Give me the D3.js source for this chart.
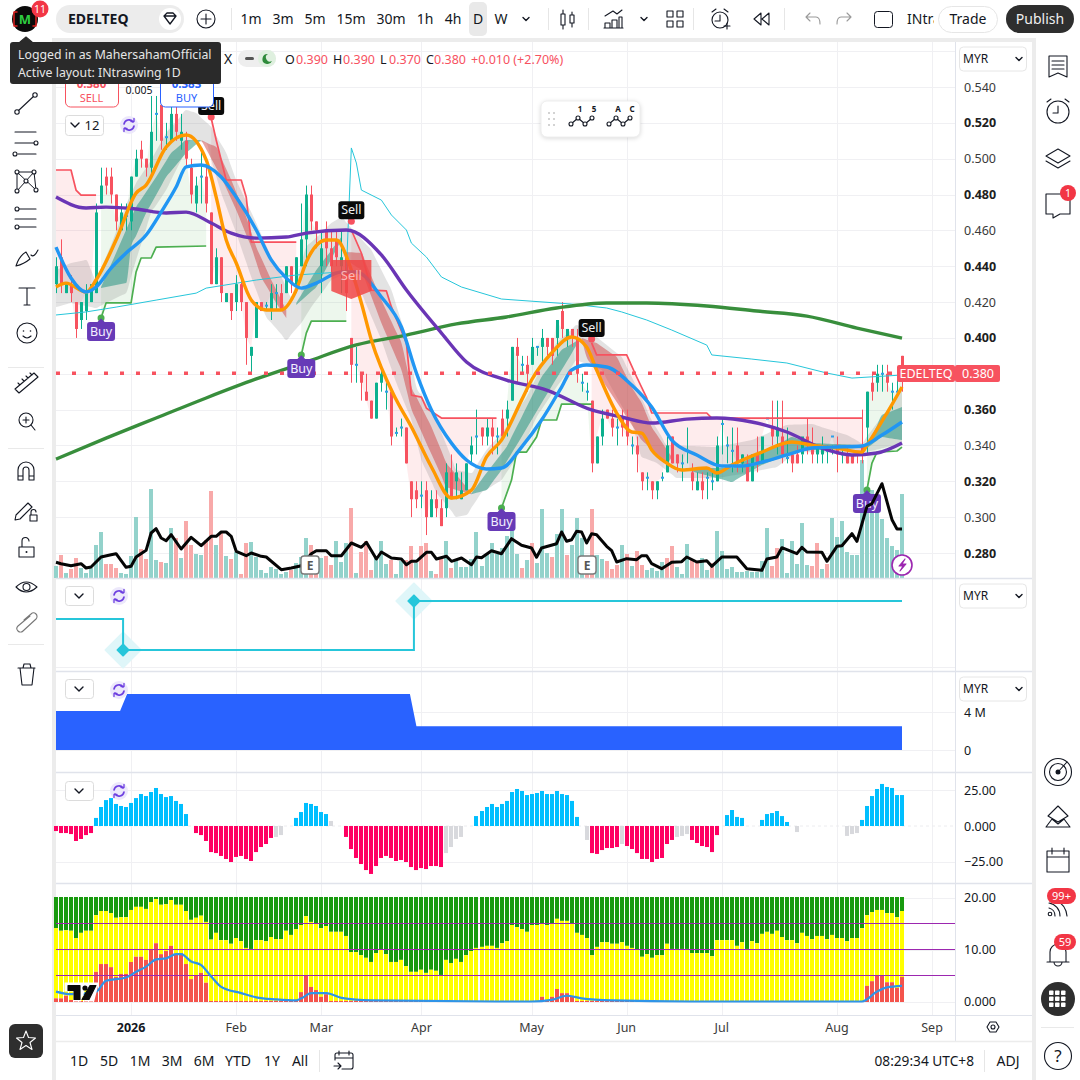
<!DOCTYPE html>
<html><head><meta charset="utf-8">
<style>html,body{margin:0;padding:0;background:#fff;overflow:hidden}svg{display:block}text{font-family:"Noto Sans",sans-serif}</style>
<script src="https://cdn.jsdelivr.net/npm/d3@7"></script></head><body><script>
const opens=[.43,.445,.425,.43,.42,.41,.415,.42,.425,.475,.49,.49,.48,.46,.468,.465,.49,.505,.50,.495,.525,.53,.512,.51,.525,.51,.51,.495,.475,.49,.49,.47,.43,.445,.42,.425,.42,.43,.42,.39,.40,.42,.418,.415,.425,.425,.425,.44,.43,.44,.455,.48,.465,.44,.46,.45,.455,.44,.445,.40,.385,.38,.37,.365,.355,.375,.37,.37,.347,.35,.35,.32,.315,.312,.315,.30,.31,.305,.305,.325,.32,.31,.315,.335,.34,.35,.345,.35,.345,.355,.355,.365,.395,.385,.385,.385,.395,.395,.40,.40,.40,.415,.40,.405,.40,.375,.37,.365,.33,.345,.36,.355,.35,.355,.355,.34,.34,.325,.322,.32,.315,.322,.325,.345,.335,.33,.337,.325,.315,.32,.322,.32,.32,.352,.34,.337,.34,.33,.33,.32,.335,.33,.355,.35,.345,.345,.333,.335,.335,.335,.345,.34,.335,.335,.337,.345,.34,.335,.335,.335,.337,.34,.35,.375,.375,.38,.38,.37,.37,.39];
const highs=[.445,.455,.43,.435,.42,.42,.43,.43,.475,.495,.495,.495,.48,.475,.475,.49,.505,.51,.50,.535,.535,.54,.52,.53,.53,.525,.515,.50,.49,.505,.495,.47,.45,.445,.425,.425,.435,.435,.42,.395,.42,.42,.42,.43,.43,.43,.44,.44,.445,.475,.485,.485,.465,.46,.465,.46,.46,.46,.445,.40,.395,.38,.38,.365,.375,.385,.375,.37,.35,.355,.35,.32,.32,.32,.32,.315,.315,.31,.33,.335,.33,.325,.33,.345,.36,.35,.355,.355,.35,.36,.365,.395,.40,.39,.39,.40,.395,.405,.40,.40,.41,.42,.405,.405,.405,.38,.375,.365,.345,.36,.36,.36,.355,.36,.36,.345,.345,.325,.325,.32,.32,.325,.345,.345,.335,.335,.35,.33,.325,.325,.325,.325,.345,.355,.345,.35,.35,.335,.335,.335,.345,.335,.345,.365,.365,.365,.35,.335,.34,.335,.355,.35,.34,.345,.34,.34,.345,.34,.34,.335,.335,.36,.37,.38,.385,.385,.385,.375,.38,.39];
const lows=[.425,.425,.425,.42,.40,.405,.41,.42,.425,.475,.48,.475,.46,.46,.46,.46,.49,.495,.49,.49,.51,.505,.505,.51,.51,.505,.495,.475,.47,.475,.47,.43,.43,.42,.42,.41,.415,.415,.385,.38,.40,.415,.415,.41,.415,.415,.425,.425,.425,.44,.44,.46,.45,.425,.44,.435,.44,.425,.415,.375,.375,.365,.365,.355,.355,.37,.36,.34,.345,.345,.33,.30,.305,.305,.29,.30,.30,.295,.30,.31,.31,.31,.315,.33,.335,.34,.34,.335,.335,.345,.345,.365,.375,.38,.37,.385,.39,.385,.39,.385,.39,.40,.395,.395,.375,.37,.365,.325,.33,.34,.355,.345,.34,.345,.34,.335,.325,.315,.315,.31,.31,.32,.325,.33,.325,.32,.33,.315,.315,.31,.31,.315,.32,.335,.33,.325,.325,.325,.32,.32,.325,.33,.345,.34,.335,.33,.33,.325,.33,.33,.335,.33,.33,.33,.33,.335,.325,.33,.33,.33,.33,.33,.335,.365,.37,.37,.37,.36,.37,.37];
const closes=[.44,.43,.43,.425,.405,.42,.425,.43,.47,.485,.485,.48,.465,.47,.468,.49,.50,.50,.495,.515,.525,.51,.512,.525,.515,.515,.50,.48,.485,.49,.475,.43,.445,.425,.425,.415,.43,.42,.40,.395,.42,.415,.418,.425,.425,.415,.44,.43,.445,.455,.48,.465,.46,.45,.45,.44,.445,.445,.425,.385,.385,.375,.365,.355,.375,.38,.37,.345,.347,.35,.33,.31,.31,.312,.30,.31,.305,.295,.325,.31,.325,.315,.33,.34,.345,.345,.35,.345,.345,.345,.36,.395,.39,.385,.38,.395,.395,.40,.395,.39,.41,.405,.405,.40,.38,.375,.37,.33,.345,.355,.355,.35,.35,.35,.345,.34,.335,.32,.322,.315,.32,.322,.34,.33,.33,.33,.337,.32,.32,.315,.322,.32,.34,.352,.34,.337,.33,.335,.32,.335,.33,.345,.355,.345,.35,.335,.333,.33,.33,.345,.34,.335,.34,.34,.337,.345,.335,.335,.33,.33,.335,.335,.37,.37,.38,.38,.375,.37,.37,.38];
const dojiIdx=[14,20,22,29,42,44,60,66,68,69,73,84,88,93,96,105,106,112,115,118,121,125,126,130,131,133,134,135,142,146,154,155,157,160,165,167,168];
const volumes=[12,23,5,9,20,10,5,10,33,46,14,14,10,5,4,22,61,29,19,89,18,16,15,50,40,20,57,33,24,23,38,87,33,45,22,19,26,4,35,36,21,8,5,11,9,4,6,8,15,21,40,33,19,20,22,13,37,16,35,70,5,26,37,8,20,37,14,18,4,17,18,32,15,32,35,7,4,19,37,10,19,11,11,19,46,12,24,35,24,30,42,62,24,10,18,35,15,69,25,21,44,69,23,33,60,40,20,69,23,19,17,9,13,33,24,12,27,13,8,10,7,16,20,32,11,4,34,19,15,20,8,15,47,27,9,11,6,6,7,6,6,17,50,12,30,39,5,37,14,55,13,12,35,9,14,60,41,57,26,23,23,118,65,88,73,59,40,32,28,84];
const volColors="grgrrggggg rrrggggrrg grggrgrrgg rrgrgrgrrg ggggggg rgggrrgrrg ggrgrrrggg rggrrgrrgr rgrggggggg ggggggr grgggrggrg ggrrggrrrg rgrrggggrr gggrrggrgg ggggggggg rrggggggrr gr".replace(/ /g,"");
const oscValues=[-3.5,-4.9,-4.9,-5.6,-10.4,-9,-6.3,-4.9,5.6,13.2,18,19.4,15.3,13.9,13.2,16,19.4,22.2,20.8,23.6,26.4,22.2,20.1,20.8,17.4,15.3,8.3,0,-4.9,-6.3,-10.4,-18.1,-18.8,-20.8,-22.9,-25,-21.5,-20.8,-22.9,-24.3,-18.1,-14.6,-12.5,-8.3,-7.6,-6.3,0,0,5.6,9.7,16,15.3,13.9,9.7,8.3,3.5,0,0,-7.6,-16,-22.2,-26.4,-30.6,-33.3,-27.8,-22.2,-20.8,-22.2,-24.3,-23.6,-25,-28.5,-30.6,-29.2,-29.9,-27.8,-27.8,-28.5,-18.8,-14.6,-9,-7.6,0,0,6.9,10.4,13.2,15.3,13.2,15.3,17.4,23.6,25.7,24.3,21.5,22.2,22.9,24.3,22.2,22.2,24.3,22.2,21.5,17.4,6.3,0,-9.7,-18.8,-19.4,-16.7,-15.3,-15.3,-14.6,-12.5,-13.9,-16,-18.8,-22.9,-22.9,-25,-22.9,-22.2,-12.5,-9.7,-7.6,-6.9,-5.6,-9.7,-11.8,-13.9,-14.6,-18.1,-6.3,0,7.6,11.1,6.3,5.6,0,0,0,4.2,8.3,9,10.4,6.9,2.8,0,-4.2,0,0,0,0,0,0,0,0,0,-6.9,-5.6,-4.9,4.2,13.9,20.8,25.7,29.2,27.1,26.4,21.5,21.5];
const oscGray=[44,45,55,78,79,80,81,106,113,124,125,126,148,158,159,160];
const yellowValues=[14.2,13.7,13.8,13.7,12.3,13.3,13.7,13.7,16.7,17.5,17.5,17.1,16.2,16.3,16.3,17.7,18.3,18.3,17.9,19.2,19.8,18.7,18.8,19.6,18.7,18.7,17.5,15.8,16.2,16.6,15.4,12,13.3,11.9,11.9,11.2,12.3,11.7,10.4,10.2,11.9,11.9,11.7,12.5,12.1,12.1,13.7,12.9,14,14.8,16.5,15.4,15,14.2,14.6,13.5,13.5,13.5,12.7,9.6,9.6,9,8.5,7.7,9.4,10,9.2,7.7,7.7,8.1,6.9,5.8,5.8,6.2,5.6,6.2,6,5.2,8.1,7.5,8.3,7.7,9,9.8,10.4,10.6,10.8,10.8,10.4,11.3,11.7,14.8,14.4,14,13.5,14.8,14.8,15,14.8,15,16,15.6,15.6,15,13.3,12.9,12.3,9,10.6,11.5,11.5,11.2,11.2,11.5,10.8,10.4,10,8.7,9.2,8.5,9,9,11.2,10.2,10.2,10.2,10.2,9.4,9.4,9.4,9.4,8.8,11.9,11.9,11.9,11.9,10.8,11.5,10.2,11.7,11.3,13.1,13.5,13.1,13.7,12.5,11.9,11.9,11.3,13.3,12.7,12.1,12.7,12.7,12.1,12.9,12.3,12.3,11.7,12.3,12.3,14.2,16.7,17.3,17.7,17.7,17.1,17.1,16.3,17.5];
const redValues=[.7,.7,1.2,.4,.2,.2,.2,.2,5.8,7.3,7.3,6.7,4.8,5.4,5.4,7.7,8.7,8.7,8.1,10.2,11.3,9.2,9.8,10.8,9.2,9.4,7.3,4.4,5,5.6,3.7,.2,.2,.2,.2,.2,.2,.2,.2,.2,.2,.2,.2,.2,.2,.2,.2,.2,.2,1.9,5,2.9,2.3,1,1.5,.2,.2,.2,.2,.2,.2,.2,.2,.2,.2,.2,.2,.2,.2,.2,.2,.2,.2,.2,.2,.2,.2,.2,.2,.2,.2,.2,.2,.2,.2,.2,.2,.2,.2,.2,.2,.2,.2,.2,.2,.2,.2,1,.4,1,2.5,1.7,1.7,1,.2,.2,.2,.2,.2,.2,.2,.2,.2,.2,.2,.2,.1,.1,.1,.1,.1,.1,.1,.1,.1,.1,.1,.1,.1,.1,.1,.1,.1,.1,.1,.1,.1,.1,.1,.1,.1,.1,.1,.1,.1,.1,.1,.1,.1,.1,.1,.1,.1,.1,.1,.1,.1,.1,.1,.1,.1,.1,3.1,4,5,5,3.8,3.8,2.7,4.8];
const greenTop=20;
const stackBlueLine=[[0,2],[3,1.5],[8,2],[10,4.1],[14,4.7],[16,5.8],[18,6.8],[20,8.2],[22,8.4],[24,9.2],[25,9.2],[27,7.8],[29,7.1],[31,4.9],[33,2.9],[37,1.7],[40,.9],[44,.5],[48,.3],[49,.7],[51,1.7],[54,1.7],[57,.8],[63,.3],[88,.1],[95,.1],[99,.4],[102,1.2],[105,.7],[111,.3],[127,.1],[161,.1],[164,2],[166,2.8],[169,3.1]];
const maLong=[[0,.3324],[10,.3441],[20,.3553],[30,.3665],[40,.3771],[50,.3866],[60,.3961],[70,.4016],[80,.4078],[90,.4117],[100,.4167],[110,.4195],[118,.4195],[130,.4178],[140,.415],[150,.4122],[160,.4055],[169,.3999]];
const maPurple=[[0,.4786],[6,.4725],[10,.473],[16,.4719],[22,.4697],[26,.4702],[31,.4641],[35,.4585],[40,.4557],[46,.4563],[50,.4585],[58,.4602],[65,.4463],[70,.4267],[77,.4027],[82,.3866],[90,.3765],[98,.3709],[107,.3598],[113,.3559],[119,.3525],[126,.3547],[132,.3553],[139,.3531],[146,.3475],[153,.3385],[159,.3347],[164,.3358],[169,.3414]];
const maOrange=[[0,.4284],[2,.4306],[6,.4256],[8,.4323],[12,.4546],[16,.4808],[18,.4853],[22,.5065],[26,.5132],[30,.4993],[32,.4786],[34,.4546],[36,.4418],[39,.4212],[42,.4156],[45,.4156],[48,.4267],[50,.4424],[54,.4546],[56,.4546],[59,.4379],[61,.4195],[63,.3988],[68,.3653],[71,.3503],[75,.328],[79,.3107],[83,.3151],[86,.3336],[89,.343],[93,.3653],[95,.3765],[99,.3916],[103,.4005],[106,.3949],[108,.3821],[112,.3581],[115,.3475],[117,.3469],[119,.3375],[122,.3302],[125,.3263],[130,.3274],[132,.3246],[135,.3291],[141,.3363],[147,.3419],[151,.3402],[156,.3385],[161,.3363],[162,.3402],[166,.3581],[169,.3726]];
const maBlue=[[0,.4507],[3,.4334],[6,.4256],[8,.4284],[11,.439],[14,.4474],[18,.4574],[21,.4702],[24,.4842],[26,.4954],[29,.4965],[33,.4898],[36,.4786],[40,.4602],[43,.4435],[46,.4334],[49,.4278],[52,.4306],[57,.4368],[60,.4368],[65,.4228],[69,.4061],[72,.3804],[75,.3598],[79,.3413],[82,.3319],[86,.3269],[89,.3274],[93,.3391],[97,.3542],[101,.3726],[103,.3821],[106,.3849],[110,.3838],[115,.3737],[119,.3614],[123,.343],[128,.3347],[133,.3285],[137,.3285],[141,.3307],[146,.3347],[151,.3386],[155,.3391],[161,.3397],[165,.3458],[169,.3531]];
const lineCyan=[[0,.4128],[6,.4145],[12,.4172],[20,.4211],[28,.425],[30,.4278],[40,.4323],[48,.4351],[57,.4368],[58,.4368],[59,.506],[60,.4976],[61,.4825],[65,.4769],[67,.4686],[70,.4602],[71,.4529],[74,.4451],[77,.434],[81,.4284],[89,.4217],[103,.4189],[110,.4167],[113,.4145],[118,.41],[123,.4044],[130,.396],[131,.3905],[139,.3882],[146,.386],[154,.3804],[159,.3776],[169,.3793]];
const stopsRed=[[[0,.4937],[3,.4937],[4,.4825],[5,.4797],[8,.4797]],[[31,.5227],[32,.5104],[34,.4881],[37,.4881],[38,.4786],[39,.4535],[48,.4535]],[[59,.4602],[61,.4474],[63,.4267],[66,.4262],[67,.4173],[70,.3972],[71,.3681],[73,.367],[74,.3608],[77,.3553],[88,.3553]],[[107,.3972],[108,.3905],[114,.3905],[116,.3782],[118,.3665],[119,.3581],[130,.3581],[131,.3553],[161,.3553]]];
const stopsGreen=[[[9,.4111],[10,.4195],[15,.4195],[16,.4368],[17,.4446],[19,.4446],[20,.4507],[30,.4513]],[[49,.3905],[50,.4027],[51,.4094],[58,.4094]],[[89,.3051],[91,.3207],[92,.3363],[94,.3363],[96,.3447],[97,.3542],[100,.3542],[101,.3631],[107,.3631]],[[162,.3152],[163,.3302],[164,.3363],[168,.3369],[169,.3391]]];
const bandUpper=[[0,.4379],[3,.4418],[6,.4435],[8,.4323],[11,.4518],[14,.4742],[16,.4864],[19,.4993],[22,.5143],[26,.5272],[28,.5255],[31,.5177],[34,.5032],[36,.4881],[40,.4641],[43,.4451],[47,.4228],[50,.4507],[55,.4641],[57,.4675],[63,.449],[67,.4267],[70,.4005],[72,.3726],[76,.3541],[80,.3263],[83,.3246],[86,.3374],[90,.3503],[94,.367],[97,.3838],[100,.3971],[104,.4072],[108,.4005],[113,.3893],[116,.3726],[119,.3541],[122,.3402],[132,.3391],[139,.343],[146,.3514],[151,.352],[158,.3458],[161,.3413],[169,.3708]];
const bandLower=[[0,.4172],[3,.4195],[8,.4167],[14,.425],[16,.4435],[19,.4697],[22,.4825],[24,.4937],[27,.5104],[30,.5087],[33,.4809],[36,.4585],[39,.434],[42,.4117],[46,.3988],[49,.4083],[51,.4172],[55,.4323],[58,.4362],[61,.425],[65,.3988],[68,.3748],[71,.3541],[73,.3319],[76,.3136],[80,.3001],[82,.3012],[85,.3136],[89,.3207],[93,.3374],[96,.3558],[100,.3726],[104,.3876],[109,.3821],[112,.367],[115,.3525],[117,.3335],[120,.3302],[124,.3218],[132,.3218],[138,.3246],[144,.328],[148,.3363],[159,.3358],[162,.3363],[169,.3413]];
const ribbons=[
{up:1,top:[[9,.4284],[12,.4474],[16,.473],[20,.4898],[23,.5032],[26,.5104],[29,.5104]],bot:[[9,.4279],[14,.4306],[15,.4507],[18,.4697],[22,.4898],[26,.5032],[29,.5104]]},
{up:0,top:[[29,.5104],[32,.5065],[35,.4881],[38,.4675],[40,.4507],[43,.4323],[46,.4156]],bot:[[29,.5104],[33,.4898],[36,.4714],[39,.4507],[41,.434],[44,.4194],[46,.4111]]},
{up:1,top:[[48,.4195],[52,.4379],[57,.4563]],bot:[[48,.4184],[52,.4284],[57,.4546]]},
{up:0,top:[[58,.4479],[61,.4474],[65,.4212],[69,.3972],[71,.3726],[75,.3503],[78,.3302],[83,.3134]],bot:[[58,.4435],[61,.4379],[65,.4083],[69,.3821],[71,.3603],[74,.3413],[78,.3168],[83,.3128]]},
{up:1,top:[[83,.3134],[86,.3246],[90,.3391],[93,.3558],[97,.3782],[101,.3932],[105,.3999]],bot:[[83,.3128],[86,.3151],[89,.3263],[93,.3447],[97,.3637],[101,.3821],[104,.396],[105,.3999]]},
{up:0,top:[[105,.3999],[108,.3971],[112,.3893],[115,.3726],[117,.3637],[119,.3503],[123,.3335]],bot:[[105,.3999],[106,.3893],[110,.3726],[114,.3558],[117,.343],[122,.3302],[123,.3335]]},
{up:1,top:[[126,.3274],[135,.3274],[141,.3363],[147,.3447],[151,.3413],[161,.3402]],bot:[[126,.3263],[135,.3196],[141,.3291],[147,.3358],[151,.3374],[161,.3385]]},
{up:1,top:[[162,.3391],[165,.357],[169,.3614]],bot:[[162,.3385],[165,.3447],[169,.343]]}];
const rsiLine=[[0,15.7],[1,14.3],[3,12.3],[5,14.3],[6,10],[7,11],[9,21],[11,23.3],[12,24.3],[14,10.7],[15,11.7],[16,21],[18,27.7],[19,45],[20,49.3],[21,40],[22,37.3],[23,43.3],[25,29],[27,40.7],[29,32.3],[31,41.7],[32,41.7],[33,46],[34,46],[35,41.7],[36,26.7],[38,22.3],[39,25],[41,21.7],[42,21],[45,8.3],[47,10],[49,12.3],[51,24.3],[52,27.3],[54,27.3],[55,22.3],[57,22.3],[59,35],[61,30.7],[62,35.7],[64,19],[65,26],[67,20],[69,19],[70,13.3],[71,16.7],[72,16.7],[74,25.7],[75,25.7],[76,19],[78,21.7],[79,16.7],[81,20],[83,13.3],[84,21],[85,20.3],[87,27.3],[89,24.3],[91,39.3],[93,32.7],[95,30],[96,20.7],[97,30],[100,34.3],[101,46],[102,36.7],[103,38.3],[104,46.7],[105,46],[106,35],[107,44.3],[108,43.3],[110,31.7],[111,27.3],[112,16],[114,19.3],[116,18.3],[117,22.3],[118,22.3],[119,14.3],[121,9.3],[123,15.7],[125,16.3],[126,21],[128,16],[130,17.3],[131,11.7],[133,21],[136,21],[138,9.3],[141,7.7],[142,19],[144,21],[145,30.3],[148,24.3],[149,30.7],[150,26],[153,25.7],[154,16.7],[156,31.7],[157,32.3],[159,44.3],[160,36.7],[162,71.7],[163,74.3],[165,94.3],[167,58.3],[168,49],[169,49]];
const signalLine=[[0,.27],[13.4,.27],[13.4,-1],[71.5,-1],[71.5,1],[169,1]];
const signalMarks=[[13.4,-1],[71.5,1]];
const flowArea=[[0,4.1],[12.8,4.1],[14.2,5.9],[70.7,5.9],[72,2.5],[169,2.5]];
const buySignals=[[9,.4111],[49,.3905],[89,.3051],[162,.3152]];
const sellSignals=[[31,.5227],[59,.4646],[107,.3988]];
const priceTicks=[.54,.52,.50,.48,.46,.44,.42,.40,.38,.36,.34,.32,.30,.28];
const monthTicks=[[15,"2026"],[36,"Feb"],[53,"Mar"],[73,"Apr"],[95,"May"],[114,"Jun"],[133,"Jul"],[156,"Aug"],[175,"Sep"]];
const ranges=[["1D",79],["5D",109],["1M",140],["3M",172],["6M",204],["YTD",238],["1Y",272],["All",300]];
const frames=[["1m",251],["3m",283],["5m",315],["15m",351],["30m",391],["1h",425],["4h",453],["D",478],["W",501]];

const INK="#131722",UP="#0cb08e",DN="#f7525f";
const svg=d3.select("body").append("svg").attr("width",1080).attr("height",1080);
const x=d3.scaleLinear([0,169],[56,902]);
const bx=i=>Math.round(x(i));
const y=d3.scaleLinear([.28,.54],[553,87]);
const yVol=d3.scaleLinear([0,100],[578,478]);
const ySig=d3.scaleLinear([-1,1],[650,601]);
const yFlow=d3.scaleLinear([0,4],[750,712]);
const yOsc=d3.scaleLinear([-25,25],[862,790]);
const yStack=d3.scaleLinear([0,20],[1002,898]);
const P=d3.line().x(d=>x(d[0])).y(d=>y(d[1]));
const PS=d3.line().x(d=>x(d[0])).y(d=>y(d[1])).curve(d3.curveMonotoneX);
const txt=(t,a,b,o={})=>svg.append("text").attr("x",a).attr("y",b).text(t).attr("font-size",o.s||13).attr("fill",o.c||INK).attr("font-weight",o.w||400).attr("text-anchor",o.a||"start");
const rect=(a,b,w,h,f,o={})=>svg.append("rect").attr("x",a).attr("y",b).attr("width",w).attr("height",h).attr("fill",f).attr("rx",o.r||0).attr("stroke",o.st||"none").attr("stroke-width",o.sw||1);
const ic=(d,tx=0,ty=0,o={})=>svg.append("path").attr("d",d).attr("transform",`translate(${tx},${ty})`).attr("fill",o.f||"none").attr("stroke",o.c||INK).attr("stroke-width",o.w||1.1).attr("stroke-linejoin","round").attr("stroke-linecap","round");
const circ=(a,b,r,o={})=>svg.append("circle").attr("cx",a).attr("cy",b).attr("r",r).attr("fill",o.f||"none").attr("stroke",o.c||"none").attr("stroke-width",o.w||1.1);
const interp=(s,i)=>{if(i<=s[0][0])return s[0][1];for(let k=1;k<s.length;k++){if(i<=s[k][0]){const a=s[k-1],b=s[k];const t=(i-a[0])/((b[0]-a[0])||1);return a[1]+(b[1]-a[1])*t}}return s[s.length-1][1]};

rect(0,0,1080,1080,"#ececec");
rect(56,42,976,1038,"#fff");

// grid
const GRID="#f0f0f3";
const hl=(v,c=GRID)=>{const p=Math.round(v)+.5;svg.append("line").attr("x1",56).attr("x2",955).attr("y1",p).attr("y2",p).attr("stroke",c).attr("stroke-width",1)};
priceTicks.forEach(t=>hl(y(t)));
hl(51);hl(ySig(-1)+17);hl(yFlow(4));hl(yFlow(0));hl(yOsc(25));hl(yOsc(-25));hl(yStack(20));hl(yStack(10));hl(yStack(0));
monthTicks.forEach(m=>svg.append("line").attr("x1",bx(m[0])+.5).attr("x2",bx(m[0])+.5).attr("y1",42).attr("y2",1015).attr("stroke",GRID));

// volume
svg.append("g").selectAll("rect").data(volumes).join("rect").attr("x",(d,i)=>bx(i)-2).attr("width",4).attr("y",d=>yVol(d)).attr("height",d=>578-yVol(d)).attr("fill",(d,i)=>volColors[i]==="r"?"#f8a9a9":"#93d2cb");

// signal fills run from the stop line to the candle closes
const fill=(seg,c)=>{const a=seg[0][0],b=seg[seg.length-1][0];const back=d3.range(b,a-1,-1).map(i=>[i,closes[i]]);svg.append("path").attr("d",P(seg.concat(back))+"Z").attr("fill",c)};
stopsRed.forEach(s=>fill(s,"rgba(247,82,95,.11)"));
stopsGreen.forEach(s=>fill(s,"rgba(76,175,80,.10)"));

// gray band, ribbons
const band=d3.area().x(d=>x(d[0])).y0(d=>y(d[1])).y1(d=>y(d[2])).curve(d3.curveMonotoneX);
svg.append("path").attr("d",band(d3.range(0,170).map(i=>[i,interp(bandUpper,i),interp(bandLower,i)]))).attr("fill","rgba(115,115,115,.2)");
ribbons.forEach(r=>{const a=r.top[0][0],b=r.top[r.top.length-1][0];
 svg.append("path").attr("d",band(d3.range(a,b+1).map(i=>[i,interp(r.top,i),interp(r.bot,i)]))).attr("fill",r.up?"rgba(40,150,130,.55)":"rgba(205,70,70,.5)")});

// candles
const dojis=new Set(dojiIdx);
const cg=svg.append("g");
opens.forEach((o,i)=>{const c=closes[i],up=c>=o,col=up?UP:DN,a=bx(i);
 cg.append("line").attr("x1",a+.5).attr("x2",a+.5).attr("y1",y(highs[i])).attr("y2",y(lows[i])).attr("stroke",col).attr("stroke-width",1);
 if(dojis.has(i)){cg.append("rect").attr("x",a-1).attr("width",3).attr("y",y(c)-1).attr("height",2).attr("fill","#2f9fe8")}
 else{cg.append("rect").attr("x",a-1).attr("width",3).attr("y",y(Math.max(o,c))).attr("height",Math.max(1,Math.abs(y(o)-y(c)))).attr("fill",col)}
});

// lines
const ln=(s,c,w,curve=true)=>svg.append("path").attr("d",(curve?PS:P)(s)).attr("fill","none").attr("stroke",c).attr("stroke-width",w).attr("stroke-linejoin","round");
stopsRed.forEach(s=>ln(s,"#f7525f",1.7,false));
stopsGreen.forEach(s=>ln(s,"#4caf50",1.7,false));
ln(lineCyan,"#26c6da",1,false);
ln(maLong,"#388e3c",3.4);
ln(maPurple,"#6a35b5",3.4);
ln(maOrange,"#ff9800",3.4);
ln(maBlue,"#2196f3",3.4);

// last price
svg.append("line").attr("x1",56).attr("x2",897).attr("y1",y(.38)-.5).attr("y2",y(.38)-.5).attr("stroke","#f7525f").attr("stroke-width",3.5).attr("stroke-dasharray","4 12");

// labels
const buy=(d)=>{const a=x(d[0]),b=y(d[1]);circ(a,b,3.5,{f:"#4caf50"});ic(`M${a-4} ${b+5}L${a} ${b+1}L${a+4} ${b+5}Z`,0,0,{f:"#673ab7",c:"#673ab7"});rect(a-14,b+4,28,19,"#673ab7",{r:3});txt("Buy",a,b+18,{c:"#f3f0ff",a:"middle",s:12.5})};
const sell=(d)=>{const a=x(d[0]),b=y(d[1]);circ(a,b-1,3.5,{f:"#f7525f"});rect(a-13,b-21,26,18,"#0a0a0a",{r:3});txt("Sell",a,b-8,{c:"#f0f0f0",a:"middle",s:12.5})};
// big signal box
svg.append("path").attr("d",`M${x(55)} 260H${x(63)}V291L${x(59)} 299L${x(55)} 291Z`).attr("fill","rgba(240,70,70,.85)");
txt("Sell",x(59),280,{c:"#f8b8b8",a:"middle",s:13});
buySignals.forEach(buy);sellSignals.forEach(sell);

// RSI line over volume
svg.append("path").attr("d",d3.line().x(d=>x(d[0])).y(d=>yVol(d[1])).curve(d3.curveLinear)(rsiLine)).attr("fill","none").attr("stroke","#050505").attr("stroke-width",3).attr("stroke-linejoin","round");

// E badges + bolt
[[310,565],[587,565]].forEach(p=>{rect(p[0]-9,p[1]-9,18,18,"#fff",{r:3,st:"#7a7a7a",sw:1.4});txt("E",p[0],p[1]+5,{a:"middle",s:12,w:700,c:"#555"})});
circ(902,565,10,{f:"#fff",c:"#9c27b0",w:1.6});
ic("M905 559L899 566H903L900 571L906 564H902Z",0,0,{f:"#9c27b0",c:"#9c27b0"});

// floating widget
svg.append("rect").attr("x",541).attr("y",101).attr("width",99).attr("height",36).attr("rx",6).attr("fill","#fff").attr("stroke","#eee").style("filter","drop-shadow(0 1px 2px rgba(0,0,0,.15))");
[[552,112],[552,118],[552,124]].forEach(p=>{rect(p[0]-4,p[1],2,2,"#d3d3d3");rect(p[0]+1,p[1],2,2,"#d3d3d3")});
[[571,"1","5"],[609,"A","C"]].forEach(w=>{const o=w[0];ic(`M${o} 124L${o+7} 118L${o+14} 124L${o+21} 118`);[[o,124],[o+7,118],[o+14,124],[o+21,118]].forEach(p=>circ(p[0],p[1],2,{f:"#fff",c:INK}));txt(w[1],o+9,112,{s:8,w:700,a:"middle"});txt(w[2],o+23,112,{s:8,w:700,a:"middle"})});

// order widget
rect(65.5,70,53,37,"#fff",{r:5,st:"#f7525f"});txt("0.380",91.5,88,{c:"#f7525f",a:"middle",s:11.5,w:700});txt("SELL",91.5,102,{c:"#f7525f",a:"middle",s:11});
rect(160.5,70,53,37,"#fff",{r:5,st:"#2962ff"});txt("0.383",186.5,88,{c:"#2962ff",a:"middle",s:11.5,w:700});txt("BUY",186.5,102,{c:"#2962ff",a:"middle",s:11});
txt("0.005",139,94,{a:"middle",s:10.5});

const chev=(a,b,c=INK,w=4)=>ic(`M${a-w} ${b-w/2}L${a} ${b+w/2}L${a+w} ${b-w/2}`,0,0,{c,w:1.4});
const refresh=(a,b)=>{circ(a,b,9,{f:"#ece8fb"});ic(`M${a-5} ${b-1}A5 5 0 0 1 ${a+4} ${b-3}M${a+5} ${b+1}A5 5 0 0 1 ${a-4} ${b+3}`,0,0,{c:"#6d3fe0",w:1.6});ic(`M${a+2} ${b-3.5}H${a+5}V${b-6.5}M${a-2} ${b+3.5}H${a-5}V${b+6.5}`,0,0,{c:"#6d3fe0",w:1.3})};
rect(65.5,115.5,38,20,"#fff",{r:3,st:"#dcdcdc"});chev(75,125);txt("12",92,130,{a:"middle",s:13});refresh(129,125);

// panel separators
[578,671,772,883].forEach(v=>svg.append("line").attr("x1",56).attr("x2",1032).attr("y1",v+.5).attr("y2",v+.5).attr("stroke","#e0e3eb").attr("stroke-width",1.5));

// signal panel
signalMarks.forEach(d=>{const a=x(d[0]),b=ySig(d[1]);ic(`M${a} ${b-18}L${a+18} ${b}L${a} ${b+18}L${a-18} ${b}Z`,0,0,{f:"#dff6f9",c:"#dff6f9"})});
svg.append("path").attr("d",d3.line().x(d=>x(d[0])).y(d=>ySig(d[1]))(signalLine)).attr("fill","none").attr("stroke","#26c6da").attr("stroke-width",2);
signalMarks.forEach(d=>{const a=x(d[0]),b=ySig(d[1]);ic(`M${a} ${b-6}L${a+6} ${b}L${a} ${b+6}L${a-6} ${b}Z`,0,0,{f:"#26c6da",c:"#26c6da"})});
rect(65.5,586.5,28,19,"#fff",{r:3,st:"#dcdcdc"});chev(79,596);refresh(119,596);

// flow panel
svg.append("path").attr("d",d3.area().x(d=>x(d[0])).y0(yFlow(0)).y1(d=>yFlow(d[1]))(flowArea)).attr("fill","#2962ff");
rect(65.5,679.5,28,19,"#fff",{r:3,st:"#dcdcdc"});chev(79,689);refresh(119,690);

// oscillator
const gr=new Set(oscGray);
svg.append("line").attr("x1",56).attr("x2",955).attr("y1",yOsc(0)).attr("y2",yOsc(0)).attr("stroke","#ececef").attr("stroke-dasharray","3 3");
svg.append("g").selectAll("rect").data(oscValues).join("rect").attr("x",(d,i)=>bx(i)-2).attr("width",4).attr("y",d=>Math.min(yOsc(d),yOsc(0))).attr("height",d=>Math.abs(yOsc(d)-yOsc(0))).attr("fill",(d,i)=>gr.has(i)?"#d8d9dd":d>0?"#00bfff":"#ff0062");
rect(65.5,781.5,28,19,"#fff",{r:3,st:"#dcdcdc"});chev(79,791);refresh(119,791);

// stack panel
const stk=svg.append("g");
yellowValues.forEach((v,i)=>{const a=bx(i)-2;
 stk.append("rect").attr("x",a).attr("width",4).attr("y",yStack(greenTop)-1).attr("height",yStack(v)-yStack(greenTop)+1).attr("fill","#189a0e");
 stk.append("rect").attr("x",a).attr("width",4).attr("y",yStack(v)).attr("height",yStack(redValues[i])-yStack(v)).attr("fill","#ffff00");
 stk.append("rect").attr("x",a).attr("width",4).attr("y",yStack(redValues[i])).attr("height",yStack(0)-yStack(redValues[i])).attr("fill","#f4544c");
});
[15,10,5].forEach(v=>{const p=Math.round(yStack(v))-.5;svg.append("line").attr("x1",56).attr("x2",955).attr("y1",p).attr("y2",p).attr("stroke","#9c27b0").attr("stroke-width",1)});
svg.append("path").attr("d",d3.line().x(d=>x(d[0])).y(d=>yStack(d[1])).curve(d3.curveMonotoneX)(stackBlueLine)).attr("fill","none").attr("stroke","#2f94e8").attr("stroke-width",2.2);
// TV logo
svg.append("path").attr("d","M66 984H97L93 1000H86L90 988H84L80 1000H75V990H66Z").attr("fill","#fff").attr("stroke","#fff").attr("stroke-width",3);
ic("M68 985.5H80V999.5H74V990.5H68Z",0,0,{f:"#0a0a0a",c:"#0a0a0a"});
circ(85,988,2.6,{f:"#0a0a0a"});
ic("M90 985.5H96L89 999.5H82Z",0,0,{f:"#0a0a0a",c:"#0a0a0a"});

// price axis
rect(956,42,76,1000,"#fff");
priceTicks.forEach((t,i)=>txt(t.toFixed(3),964,y(t)+4.5,{s:12.5,w:i%2?700:400,c:i%2?"#202020":"#3a3a3a"}));
[578,671,772,883].forEach(v=>svg.append("line").attr("x1",956).attr("x2",1032).attr("y1",v+.5).attr("y2",v+.5).attr("stroke","#e0e3eb").attr("stroke-width",1.5));
svg.append("line").attr("x1",955.5).attr("x2",955.5).attr("y1",42).attr("y2",1042).attr("stroke","#e0e3eb");
[[47],[584],[677]].forEach(p=>{rect(959.5,p[0],67,24,"#fff",{r:4,st:"#e6e6e6"});txt("MYR",963,p[0]+16,{s:12});chev(1019,p[0]+12,INK,3)});
txt("4 M",964,717,{s:12.5});txt("0",964,755,{s:12.5});
txt("25.00",964,795,{s:12.5});txt("0.000",964,831,{s:12.5});txt("−25.00",964,866,{s:12.5});
txt("20.00",964,902,{s:12.5});txt("10.00",964,954,{s:12.5});txt("0.000",964,1006,{s:12.5});
// price tag
rect(897,365,58,17,"#f7525f",{r:2});txt("EDELTEQ",926,378,{c:"#fff",a:"middle",s:12.5});
rect(955,365,45,17,"#f7525f",{r:2});txt("0.380",978,378,{c:"#fff",a:"middle",s:12.5});

// time axis
svg.append("line").attr("x1",56).attr("x2",1032).attr("y1",1015.5).attr("y2",1015.5).attr("stroke","#e0e3eb").attr("stroke-width",1.2);
monthTicks.forEach((m,i)=>txt(m[1],x(m[0]),1032,{a:"middle",s:12.5,w:i?400:700,c:i?"#3a3a3a":INK}));
ic("M987 1027L990 1022H996L999 1027L996 1032H990Z");circ(993,1027,2,{c:INK});

// bottom bar
svg.append("line").attr("x1",56).attr("x2",1032).attr("y1",1041.5).attr("y2",1041.5).attr("stroke","#ececec").attr("stroke-width",1.5);
ranges.forEach(r=>txt(r[0],r[1],1066,{a:"middle",s:14}));
rect(319,1050,1,22,"#e6e6e6");
ic("M335 1060V1055Q335 1053 337 1053H351Q353 1053 353 1055V1067Q353 1069 351 1069H342M335 1058H353M339 1051V1055M349 1051V1055M334 1066H341M338 1063L341 1066L338 1069");
txt("08:29:34 UTC+8",974,1066,{a:"end",s:13.7});rect(984,1050,1,22,"#e6e6e6");txt("ADJ",1008,1066,{a:"middle",s:14});

// top bar
rect(0,0,1080,38,"#fff");
circ(25,19,13,{f:"#0a0a0a"});txt("M",25,24,{a:"middle",s:13,w:700,c:"#2ecc40"});ic("M17 12H14V26H17M33 12H36V26H33",0,0,{c:"#e02020",w:1.5});
circ(40,9,8.5,{f:"#f23645"});txt("11",40,13,{a:"middle",s:10.5,c:"#fff"});
rect(56,5,128,28,"#ececec",{r:14});txt("EDELTEQ",68,24,{s:14,w:700});
circ(170,19,11,{f:"#fff"});ic("M164 16L167 13H173L176 16L170 24Z M164 16H176",0,0,{c:INK,w:1.3});
circ(206,19,9,{c:INK});ic("M201 19H211M206 14V24");
rect(231,8,1,22,"#e6e6e6");
rect(469,2,18,34,"#e9e9e9",{r:5});
frames.forEach(f=>txt(f[0],f[1],24,{a:"middle",s:14}));chev(526,19,INK,3);
[[548],[588],[693],[784]].forEach(p=>rect(p[0],8,1,22,"#e6e6e6"));
ic("M561 14H565V25H561ZM563 10V14M563 25V29M570 15H574V23H570ZM572 12V15M572 23V27");
ic("M605 16L613 11L617 14L622 10M605 28V23H610V28M612 28V20H617V28M619 28V17H622V28M604 28H623");chev(644,19,INK,3);
ic("M667 11H673V17H667ZM677 11H683V17H677ZM667 21H673V27H667ZM677 21H683V27H677Z");
circ(720,20,8,{c:INK});ic("M720 15V21H715M712 12L716 9M728 12L724 9M727 29V23M724 26H730");
ic("M761 13L754 19L761 25ZM769 13L762 19L769 25Z");
ic("M801 17H811Q815 17 815 24M801 17L805 13M801 17L805 21",5,0,{c:"#9a9a9a"});
ic("M851 17H841Q837 17 837 24M851 17L847 13M851 17L847 21",0,0,{c:"#9a9a9a"});
rect(874.5,11.5,18,16,"#fff",{r:3,st:INK});
txt("INtra",907,24,{s:14});
rect(934,4,6,30,"#fff");
rect(938.5,6.5,59,26,"#fff",{r:13,st:"#e6e6e6"});txt("Trade",968,24,{a:"middle",s:14});
rect(1006,5,68,28,"#2e2e2e",{r:14});txt("Publish",1040,24,{a:"middle",s:14,c:"#f0f0f0"});

// legend
txt("X",224,64,{s:14});
rect(238,50,38,17,"#eee",{r:8.5});rect(245,57,9,3,"#555",{r:1.5});rect(258,50,18,17,"#dff0df",{r:8.5});
svg.append("path").attr("d","M268 54A5 5 0 1 0 272 61A4 4 0 0 1 268 54Z").attr("fill","#2e8b3a");
[["O",285,INK],["0.390",296,DN],["H",333,INK],["0.390",343,DN],["L",380,INK],["0.370",389,DN],["C",426,INK],["0.380",434,DN],["+0.010 (+2.70%)",471,DN]].forEach(t=>txt(t[0],t[1],64,{s:12.5,c:t[2]}));

// left bar
rect(0,38,52,1042,"#fff");
ic("M18 111L34 96");circ(17,112,2.2,{f:"#fff",c:INK});circ(35,95,2.2,{f:"#fff",c:INK});
ic("M15 132H36M15 143H34M18 154H36");circ(36,143,2,{f:"#fff",c:INK});circ(15,154,2,{f:"#fff",c:INK});
ic("M17 172L34 172M17 191L34 172M17 172L36 190M34 172L36 190M17 172L17 191",0,0,{w:1});[[17,172],[34,172],[17,191],[36,190],[26,181]].forEach(p=>circ(p[0],p[1],2,{f:"#fff",c:INK}));
ic("M19 209H36M15 219H36M19 227H36");circ(17,209,2,{f:"#fff",c:INK});circ(17,227,2,{f:"#fff",c:INK});
ic("M16 266Q19 256 26 252L30 259Q24 264 16 266ZM31 255Q34 258 38 250");
ic("M19 288H35M27 288V305M24 305H30");
circ(27,333,10,{c:INK});circ(23.5,331,.8,{f:INK});circ(30.5,331,.8,{f:INK});ic("M23 336Q27 340 31 336");
rect(8,367,36,1,"#e9e9e9");
ic("M15 389L34 373L38 377L19 393ZM20 385L18 383M24 381L22 379M28 378L26 376M32 375L30 373");
circ(26,420,7,{c:INK});ic("M26 417V423M23 420H29M31 425L35 430");
rect(8,448,36,1,"#e9e9e9");
ic("M18 480V470A8 8 0 0 1 34 470V480H29V470A3 3 0 0 0 23 470V480ZM18 476H23M29 476H34");
ic("M16 515L28 503L32 507L20 519L15 520ZM30 515H37V521H30ZM31 515V512A2.5 2.5 0 0 1 36 512");
ic("M19 547H34V557H19ZM22 547V541A3.5 3.5 0 0 1 29 541");circ(26.5,552,1,{f:INK});
ic("M16 587Q26 577 37 587Q26 597 16 587Z");circ(26.5,587,3.5,{c:INK});
ic("M24 620L31 614A3.5 3.5 0 0 1 36 619L23 631A3 3 0 0 1 18 626L30 616",0,0,{c:"#777"});
rect(8,644,36,1,"#e9e9e9");
ic("M18 668H35M20 668L22 685H32L34 668M23 668L24 664H30L31 668");
rect(9,1024,34,34,"#2e2e2e",{r:6});
ic("M26 1031L28.5 1037.5L35.5 1038L30 1042.5L32 1049.5L26 1045.5L20 1049.5L22 1042.5L16.5 1038L23.5 1037.5Z",0,0,{c:"#fff"});

// tooltip
rect(10,42,211,42,"#2a2a2a",{r:3});ic("M20 42L26 37L32 42Z",0,0,{f:"#2a2a2a",c:"#2a2a2a"});
txt("Logged in as MahersahamOfficial",18,59,{s:12.3,c:"#e6e6e6"});
txt("Active layout: INtraswing 1D",18,77,{s:12.3,c:"#e6e6e6"});

// right bar
rect(1036,38,44,1042,"#fff");
ic("M1049 56H1067V77L1058 73L1049 77ZM1052 61H1064M1052 65H1064M1052 69H1064");
circ(1058,112,11,{c:INK});ic("M1058 106V113H1053M1047 102L1051 99M1069 102L1065 99");
ic("M1058 149L1070 156L1058 163L1046 156ZM1046 161L1058 168L1070 161");
ic("M1046 194H1070V214H1060L1053 218V214H1046Z");circ(1068,193,8,{f:"#f23645"});txt("1",1068,197,{a:"middle",s:10.5,c:"#fff"});
circ(1058,772,13.5,{c:INK});circ(1058,772,8.5,{c:INK});circ(1058,772,2.5,{f:INK});ic("M1058 772L1067 762");
ic("M1046 827H1070L1064 819L1058 824L1052 819ZM1058 806L1068 816L1058 822L1048 816Z");
ic("M1047 851H1069V872H1047ZM1047 857H1069M1052 848V854M1064 848V854");
ic("M1055 916A8 8 0 0 0 1049 908M1060 916A13 13 0 0 0 1049 903M1067 916A20 20 0 0 0 1056 900");
circ(1050,914,1.8,{c:INK});
rect(1047,888,29,16,"#f23645",{r:8});txt("99+",1061.5,900,{a:"middle",s:11,c:"#fff"});
ic("M1047 962H1069M1050 962V952A8 8 0 0 1 1066 952V962M1054 962A4 4 0 0 0 1062 962");
rect(1054,934,22,16,"#f23645",{r:8});txt("59",1065,946,{a:"middle",s:11,c:"#fff"});
circ(1058,999,17,{f:"#2e2e2e"});
[990,996,1002].forEach(a=>[1050,1056,1062].forEach(b=>rect(b-1,a+.5,4.5,4.5,"#fff",{r:.8})));
rect(1041,1027,33,1,"#e9e9e9");
circ(1058,1056,13.5,{c:INK});txt("?",1058,1062,{a:"middle",s:17});
</script></body></html>
